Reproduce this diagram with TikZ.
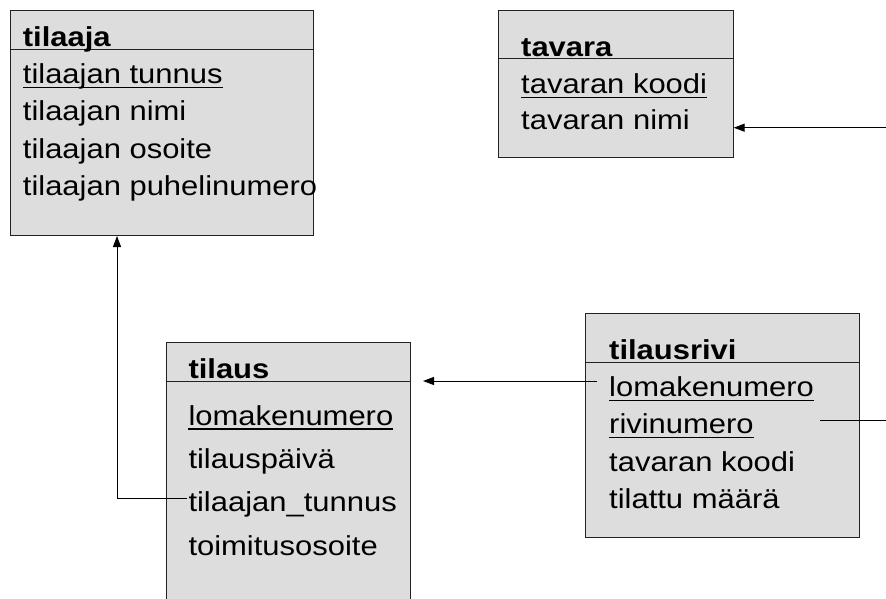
\documentclass[tikz,border=0pt]{standalone}
\usepackage{fontspec}
\setmainfont[FakeStretch=1.13]{Liberation Sans}
\usetikzlibrary{arrows.meta,calc}
\definecolor{boxfill}{HTML}{DDDDDD}
\definecolor{edgecol}{HTML}{222222}
\newcommand\keyline[1]{\draw[line width=1.5pt] ([yshift=-4pt]#1.base west) -- ([yshift=-4pt]#1.base east);}
\begin{document}
\begin{tikzpicture}[x=1pt,y=-1pt,
  entity/.style 2 args={draw=edgecol, line width=1pt, fill=boxfill, anchor=north west,
    inner sep=0, minimum width=#1pt, minimum height=#2pt},
  attr/.style={inner sep=0, anchor=base west, font=\fontsize{27.4}{31}\selectfont},
  etitle/.style={attr, font=\fontsize{27.4}{31}\selectfont\bfseries},
  rule/.style={draw=edgecol, line width=1pt},
  conn/.style={draw=black, line width=1pt},
  fkarrow/.style={conn, arrows={-Triangle[length=11pt, width=8pt]}}]
\useasboundingbox (0,0) rectangle (886,599);
\fill[white] (0,0) rectangle (886,599);
\clip (0,0) rectangle (886,599);

% tilaaja
\node[entity={302.5}{225}] (tilaaja) at (10,10) {};
\draw[rule] (tilaaja.west |- 0,49.3) -- (tilaaja.east |- 0,49.3);
\node[etitle] (tj0) at (22.7,46.7) {tilaaja};
\node[attr] (tj1) at (22.7,83.3) {tilaajan tunnus};
\node[attr] (tj2) at (22.7,120.5) {tilaajan nimi};
\node[attr] (tj3) at (22.7,158.3) {tilaajan osoite};
\node[attr] (tj4) at (22.7,195) {tilaajan puhelinumero};
\keyline{tj1}

% tavara
\node[entity={234.4}{146.7}] (tavara) at (498.3,10) {};
\draw[rule] (tavara.west |- 0,58.3) -- (tavara.east |- 0,58.3);
\node[etitle] (tv0) at (521,56.7) {tavara};
\node[attr] (tv1) at (521,93.3) {tavaran koodi};
\node[attr] (tv2) at (521,130) {tavaran nimi};
\keyline{tv1}

% tilaus
\node[entity={244}{270}] (tilaus) at (166,342.3) {};
\draw[rule] (tilaus.west |- 0,381.7) -- (tilaus.east |- 0,381.7);
\node[etitle] (ts0) at (188.3,378.3) {tilaus};
\node[attr] (ts1) at (188.3,425) {lomakenumero};
\node[attr] (ts2) at (188.3,468.3) {tilauspäivä};
\node[attr] (ts3) at (188.3,511.7) {tilaajan\_tunnus};
\node[attr] (ts4) at (188.3,555) {toimitusosoite};
\keyline{ts1}

% tilausrivi
\node[entity={274.3}{223.4}] (tilausrivi) at (585,313.3) {};
\draw[rule] (tilausrivi.west |- 0,362.3) -- (tilausrivi.east |- 0,362.3);
\node[etitle] (tr0) at (609,359.3) {tilausrivi};
\node[attr] (tr1) at (609,396.7) {lomakenumero};
\node[attr] (tr2) at (609,433.3) {rivinumero};
\node[attr] (tr3) at (609,471.7) {tavaran koodi};
\node[attr] (tr4) at (609,508.3) {tilattu määrä};
\keyline{tr1}
\keyline{tr2}

% connectors
\coordinate (ts3-out) at ([xshift=-1pt,yshift=13.4pt]ts3.base west);
\draw[fkarrow] (ts3-out) -| ([xshift=107pt]tilaaja.south west);

\coordinate (tr1-out) at ([xshift=-12pt,yshift=15.7pt]tr1.base west);
\coordinate (ts-in) at ($(tilaus.east |- tr1-out)+(12,0)$);
\draw[fkarrow] (tr1-out) -- (ts-in);

\coordinate (tr2-out) at (820,420);
\coordinate (right-a) at (886,420);
\draw[conn] (tr2-out) -- (right-a);

\coordinate (right-b) at (886,127.7);
\draw[fkarrow] (right-b) -- (tavara.east |- right-b);
\end{tikzpicture}
\end{document}
